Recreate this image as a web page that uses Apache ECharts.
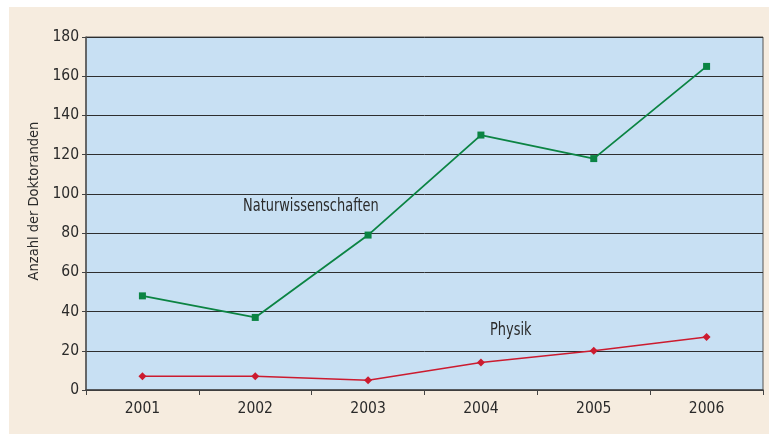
<!DOCTYPE html>
<html>
<head>
<meta charset="utf-8">
<script src="https://cdn.jsdelivr.net/npm/echarts@6/dist/echarts.min.js"></script>
<style>
  html, body { margin: 0; padding: 0; background: #ffffff; }
  #chart { width: 774px; height: 435px; }
</style>
</head>
<body>
<div id="chart"></div>
<script>
// Daten
const years = ['2001', '2002', '2003', '2004', '2005', '2006'];
const naturwissenschaften = [48, 37, 79, 130, 118, 165];
const physik = [7, 7, 5, 14, 20, 27];

const font = '"Liberation Sans Narrow", "DejaVu Sans Condensed", sans-serif';
const textColor = '#2a2a2a';

const chart = echarts.init(document.getElementById('chart'));

const option = {
  backgroundColor: '#ffffff',
  animation: false,
  textStyle: { fontFamily: font },
  graphic: [
    {
      type: 'rect',
      z: -10,
      silent: true,
      shape: { x: 9, y: 7, width: 760, height: 427 },
      style: { fill: '#f6ecdf' }
    },
    {
      type: 'text',
      x: 243,
      y: 197,
      scaleX: 0.8,
      z: 100,
      style: { text: 'Naturwissenschaften', fontFamily: font, fontSize: 18, fill: textColor }
    },
    {
      type: 'text',
      x: 490,
      y: 321,
      scaleX: 0.8,
      z: 100,
      style: { text: 'Physik', fontFamily: font, fontSize: 18, fill: textColor }
    }
  ],
  grid: {
    left: 86,
    right: 11,
    top: 37,
    bottom: 45,
    show: true,
    backgroundColor: '#c8e0f3',
    borderColor: '#555555',
    borderWidth: 1
  },
  xAxis: {
    type: 'category',
    data: years,
    boundaryGap: true,
    axisLine: { lineStyle: { color: '#444444', width: 1.5 } },
    axisTick: { show: true, length: 5, lineStyle: { color: '#444444' } },
    axisLabel: { fontFamily: font, fontSize: 15.5, color: textColor, margin: 11 },
    splitLine: { show: false }
  },
  yAxis: {
    type: 'value',
    min: 0,
    max: 180,
    interval: 20,
    name: 'Anzahl der Doktoranden',
    nameLocation: 'middle',
    nameGap: 44,
    nameTextStyle: { fontFamily: font, fontSize: 14.5, color: textColor, padding: [0, 0, 0, 25] },
    axisLine: { show: true, lineStyle: { color: '#555555', width: 1.5 } },
    axisTick: { show: true, length: 4, lineStyle: { color: '#444444' } },
    axisLabel: { fontFamily: font, fontSize: 15.5, color: textColor, margin: 7 },
    splitLine: { show: true, lineStyle: { color: '#2e2e2e', width: 1 } }
  },
  series: [
    {
      name: 'Naturwissenschaften',
      type: 'line',
      data: naturwissenschaften,
      symbol: 'rect',
      symbolSize: 7,
      lineStyle: { color: '#0b8443', width: 1.8 },
      itemStyle: { color: '#0b8443' }
    },
    {
      name: 'Physik',
      type: 'line',
      data: physik,
      symbol: 'diamond',
      symbolSize: 8,
      lineStyle: { color: '#cc1b2f', width: 1.6 },
      itemStyle: { color: '#cc1b2f' }
    }
  ]
};

chart.setOption(option);
</script>
</body>
</html>
